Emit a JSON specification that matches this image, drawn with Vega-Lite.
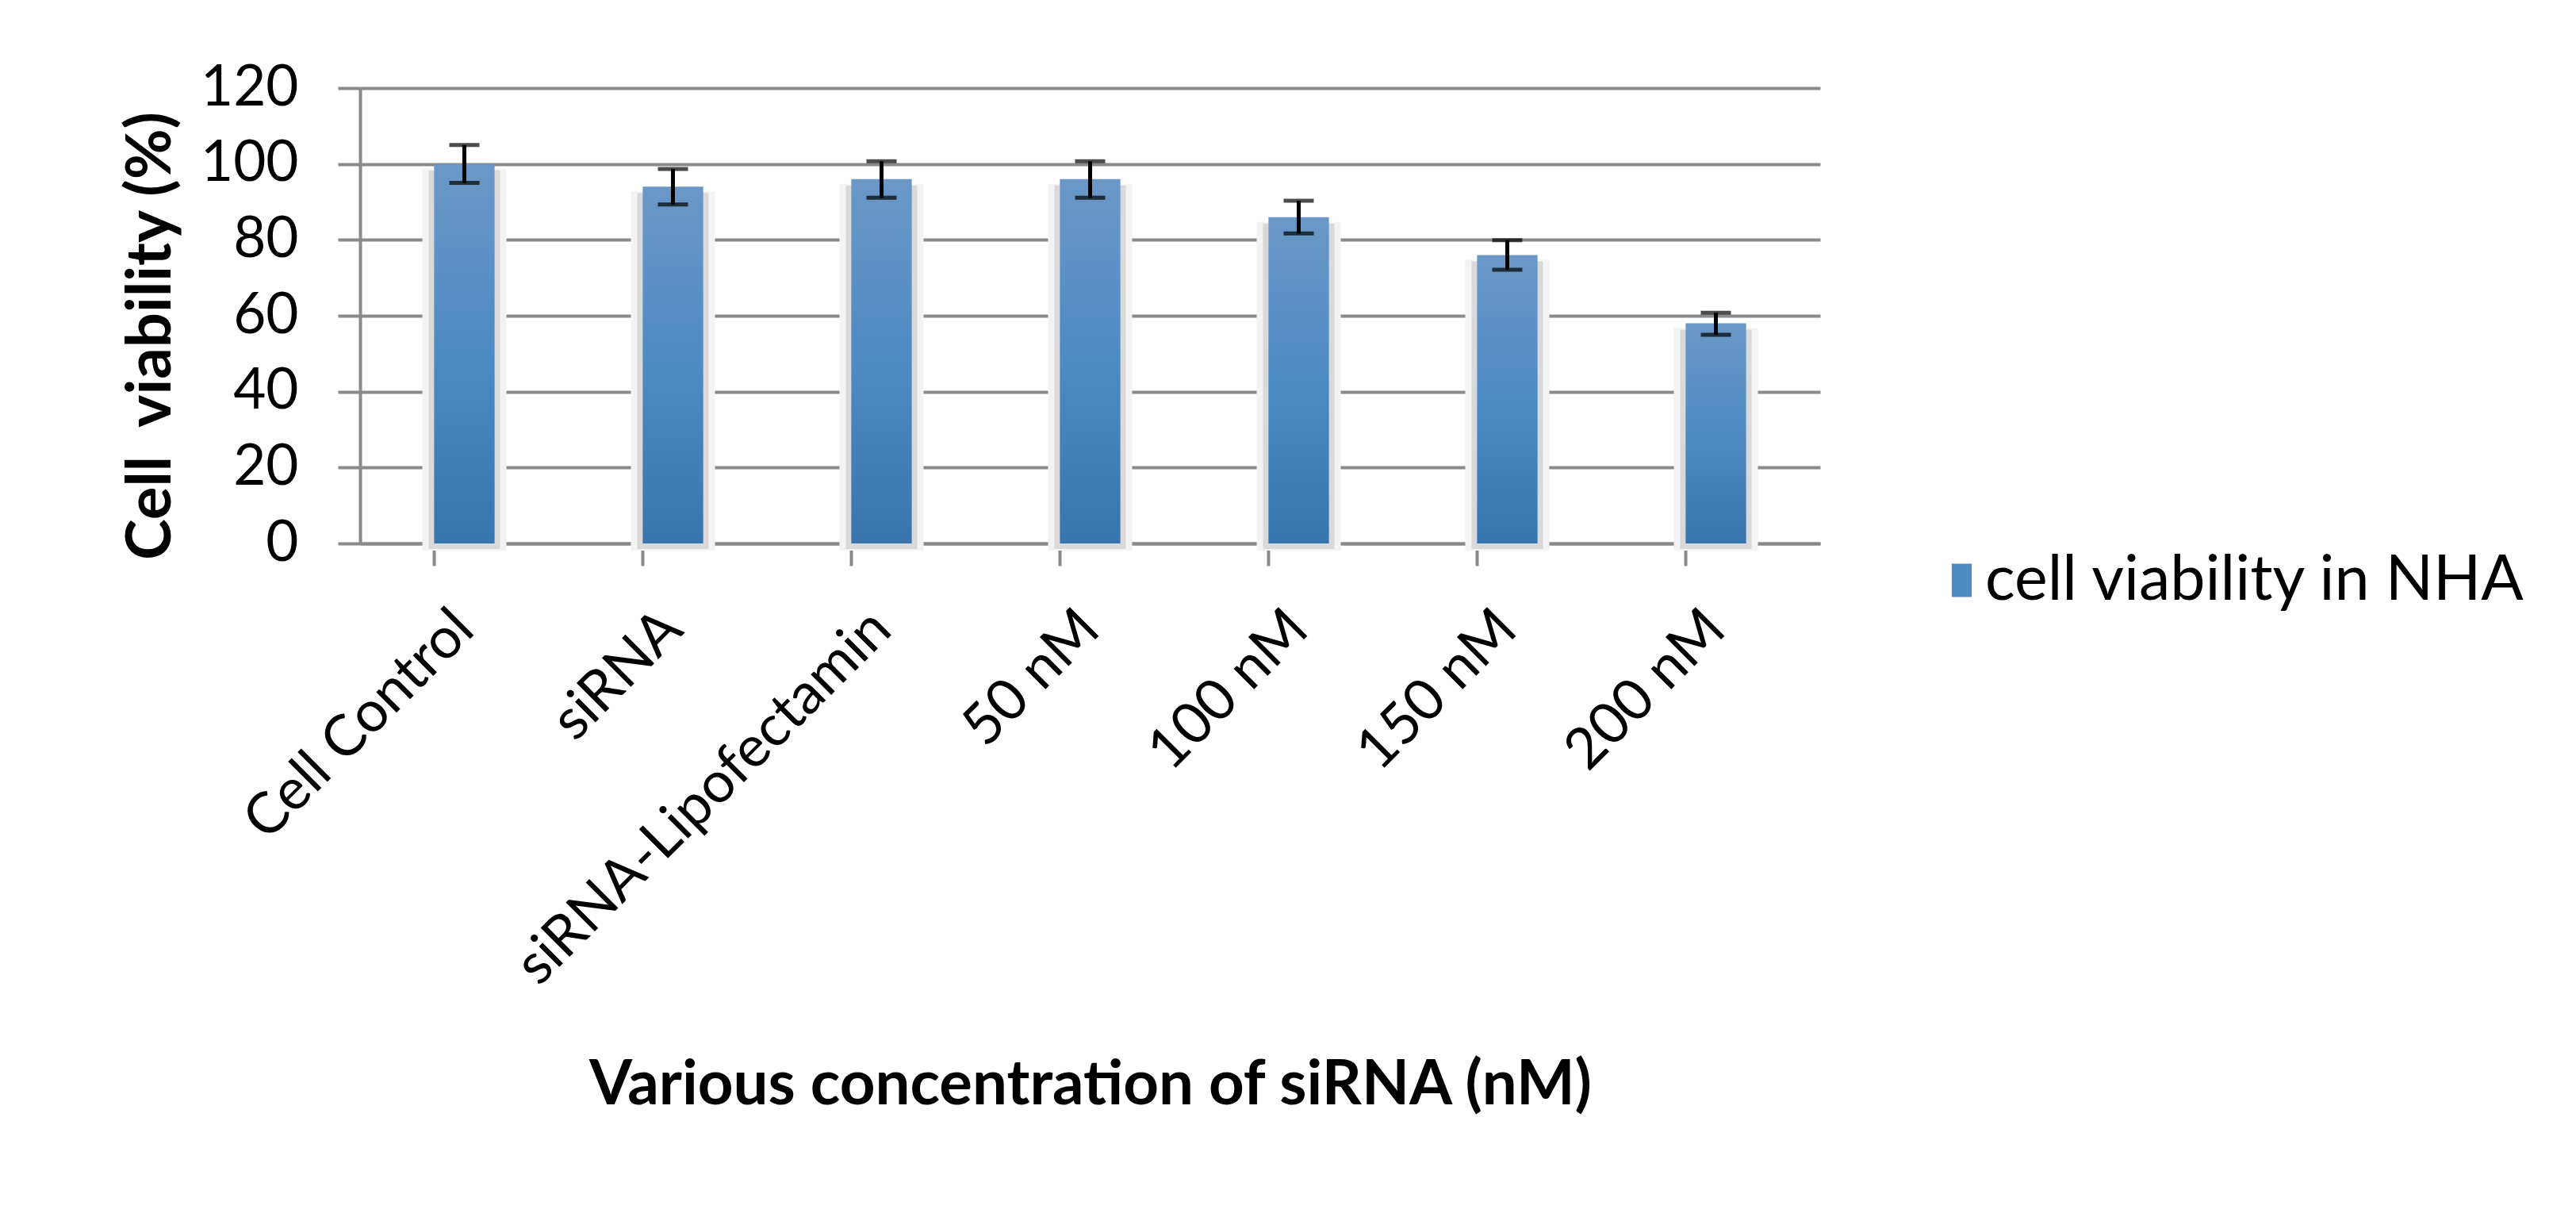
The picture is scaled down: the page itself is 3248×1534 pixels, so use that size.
{
  "$schema": "https://vega.github.io/schema/vega-lite/v6.json",
  "width": 1841,
  "height": 574,
  "autosize": {"type": "none"},
  "padding": {"left": 454, "top": 111, "right": 953, "bottom": 849},
  "background": "white",
  "config": {
    "view": {"stroke": null},
    "font": "Lato",
    "axisY": {
      "domainColor": "#8a8a8a", "domainWidth": 4,
      "gridColor": "#8a8a8a", "gridWidth": 4, "grid": true,
      "tickColor": "#8a8a8a", "tickWidth": 4, "tickSize": 28, "tickCount": 6,
      "labelFontSize": 71, "labelColor": "black", "labelPadding": 50, "labelLimit": 1000,
      "titleFontSize": 78, "titleFontWeight": "bold", "titleColor": "black", "titlePadding": 24, "titleY": 312
    },
    "axisX": {
      "domainColor": "#8a8a8a", "domainWidth": 4, "grid": false,
      "tickColor": "#8a8a8a", "tickWidth": 4, "tickSize": 28, "bandPosition": 0,
      "labelAngle": -45, "labelAlign": "right", "labelBaseline": "middle",
      "labelFontSize": 72, "labelColor": "black", "labelPadding": 68, "labelLimit": 1000,
      "titleFontSize": 78, "titleFontWeight": "bold", "titleColor": "black",
      "titleBaseline": "top", "titleY": 644
    },
    "legend": {
      "orient": "none", "legendX": 1980, "legendY": 581, "padding": 0,
      "symbolType": "M-0.6,-1H0.6V1H-0.6Z", "symbolSize": 1764, "symbolOpacity": 1, "symbolStrokeWidth": 0,
      "labelFontSize": 79, "labelColor": "black", "labelOffset": -10, "labelLimit": 2000
    }
  },
  "data": {
    "values": [
      {"group": "Cell Control", "series": "cell viability in NHA", "viability": 100, "lower": 95, "upper": 105},
      {"group": "siRNA", "series": "cell viability in NHA", "viability": 94, "lower": 89.3, "upper": 98.7},
      {"group": "siRNA-Lipofectamin", "series": "cell viability in NHA", "viability": 96, "lower": 91.1, "upper": 100.7},
      {"group": "50 nM", "series": "cell viability in NHA", "viability": 96, "lower": 91.1, "upper": 100.7},
      {"group": "100 nM", "series": "cell viability in NHA", "viability": 86, "lower": 81.7, "upper": 90.3},
      {"group": "150 nM", "series": "cell viability in NHA", "viability": 76, "lower": 72.1, "upper": 79.9},
      {"group": "200 nM", "series": "cell viability in NHA", "viability": 58, "lower": 55, "upper": 60.8}
    ]
  },
  "encoding": {
    "x": {
      "field": "group", "type": "nominal", "sort": null,
      "title": "Various concentration of siRNA (nM)",
      "scale": {"paddingInner": 0.71, "paddingOuter": 0.355}
    }
  },
  "layer": [
    {
      "mark": {"type": "bar", "color": "#f3f3f3", "width": 106, "yOffset": 6, "y2Offset": 9},
      "encoding": {
        "y": {"field": "viability", "type": "quantitative", "title": "Cell\u00a0 viability (%)", "scale": {"domain": [0, 120], "nice": false}},
        "y2": {"datum": 0}
      }
    },
    {
      "mark": {"type": "bar", "color": "#d9d9d9", "width": 90, "yOffset": 8, "y2Offset": 7},
      "encoding": {
        "y": {"field": "viability", "type": "quantitative", "title": "Cell\u00a0 viability (%)"},
        "y2": {"datum": 0}
      }
    },
    {
      "mark": {
        "type": "bar",
        "color": {"gradient": "linear", "x1": 0, "y1": 0, "x2": 0, "y2": 1,
          "stops": [{"offset": 0, "color": "#6b98c7"}, {"offset": 0.5, "color": "#4e8ac4"}, {"offset": 1, "color": "#3874ae"}]}
      },
      "encoding": {
        "y": {"field": "viability", "type": "quantitative", "title": "Cell\u00a0 viability (%)"}
      }
    },
    {
      "mark": {"type": "bar", "opacity": 0},
      "encoding": {
        "y": {"field": "viability", "type": "quantitative", "title": "Cell\u00a0 viability (%)"},
        "color": {"field": "series", "type": "nominal", "scale": {"range": ["#4e8ac4"]}, "legend": {"title": null}}
      }
    },
    {
      "mark": {"type": "rule", "color": "black", "strokeWidth": 5},
      "encoding": {
        "y": {"field": "lower", "type": "quantitative", "title": "Cell\u00a0 viability (%)"},
        "y2": {"field": "upper"}
      }
    },
    {
      "mark": {"type": "tick", "color": "black", "thickness": 5, "size": 38},
      "encoding": {
        "y": {"field": "lower", "type": "quantitative", "title": "Cell\u00a0 viability (%)"}
      }
    },
    {
      "mark": {"type": "tick", "color": "black", "thickness": 5, "size": 38},
      "encoding": {
        "y": {"field": "upper", "type": "quantitative", "title": "Cell\u00a0 viability (%)"}
      }
    }
  ]
}
